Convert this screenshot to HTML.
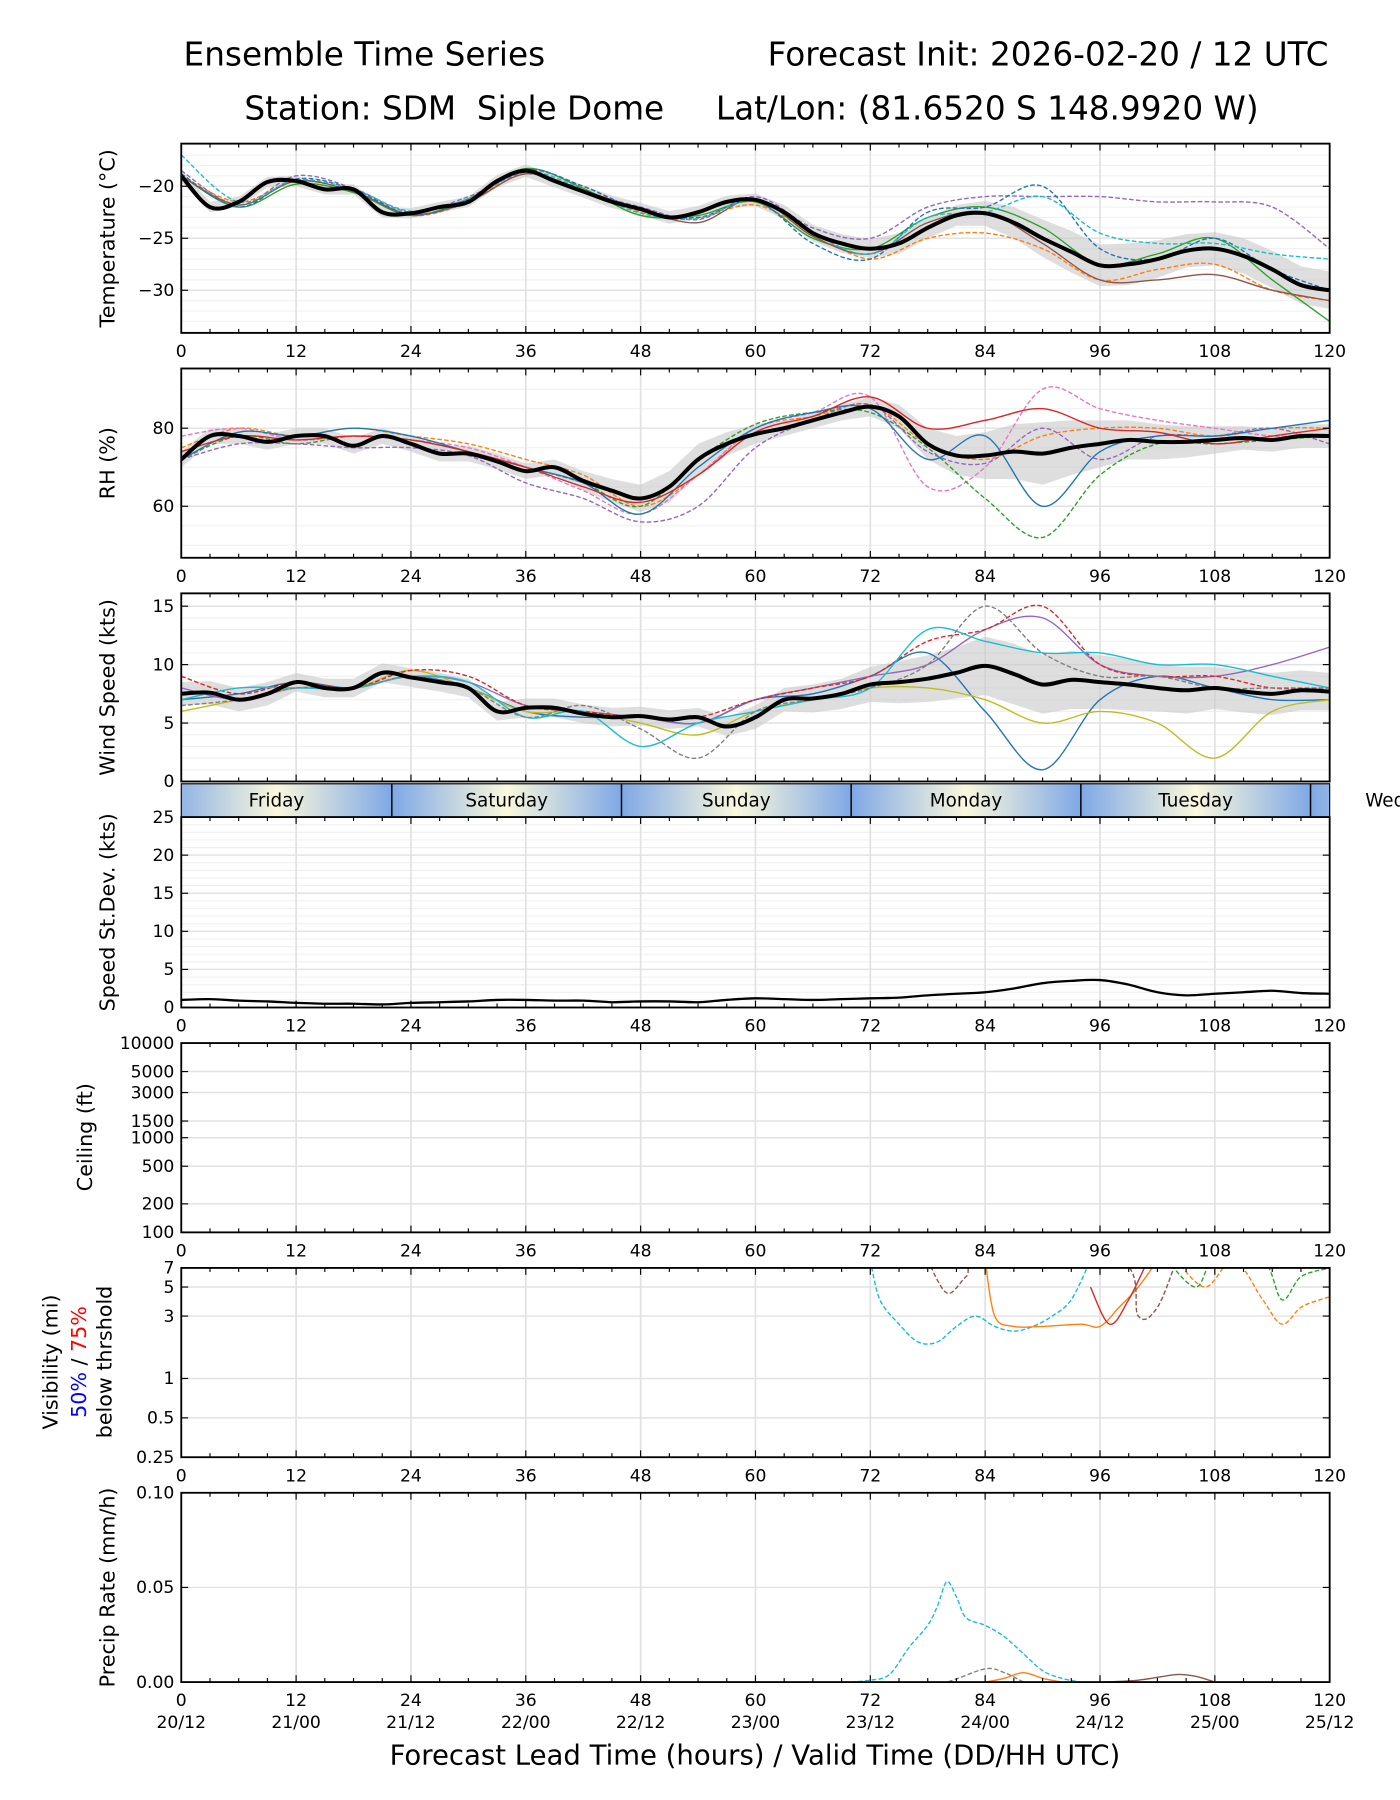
<!DOCTYPE html>
<html><head><meta charset="utf-8"><style>
html,body{margin:0;padding:0;background:#fff;}
svg{display:block;font-family:"DejaVu Sans","Liberation Sans",sans-serif;}
</style></head><body>
<svg id="chart" width="1400" height="1800" viewBox="0 0 1220.3 1568.6" xmlns="http://www.w3.org/2000/svg">
<defs>
<linearGradient id="dayg" x1="0" x2="1" y1="0" y2="0">
<stop offset="0" stop-color="#7ea8e6"/><stop offset="0.5" stop-color="#fbf8dc"/><stop offset="1" stop-color="#7ea8e6"/>
</linearGradient>
</defs>
<text x="160" y="57" font-size="28.5">Ensemble Time Series</text>
<text x="1158" y="57" font-size="28.5" text-anchor="end">Forecast Init: 2026-02-20 / 12 UTC</text>
<text x="213" y="104" font-size="28.5" xml:space="preserve">Station: SDM  Siple Dome</text>
<text x="624" y="104" font-size="28.5">Lat/Lon: (81.6520 S 148.9920 W)</text>
<g id="plots"></g>
<text x="658" y="1538" font-size="24" text-anchor="middle">Forecast Lead Time (hours) / Valid Time (DD/HH UTC)</text>
</svg>
<script>
// ---- data ----
const hours3 = [0,3,6,9,12,15,18,21,24,27,30,33,36,39,42,45,48,51,54,57,60,63,66,69,72,75,78,81,84,87,90,93,96,99,102,105,108,111,114,117,120];
const hours6 = [0,6,12,18,24,30,36,42,48,54,60,66,72,78,84,90,96,102,108,114,120];
const tempMean = [-19,-22,-21.5,-19.6,-19.5,-20.3,-20.3,-22.5,-22.6,-22,-21.5,-19.5,-18.5,-19.5,-20.5,-21.5,-22.2,-23,-22.5,-21.5,-21.3,-22.5,-24.5,-25.5,-26,-25.5,-24,-22.8,-22.6,-23.5,-25,-26.3,-27.6,-27.5,-27,-26.2,-26,-26.7,-28,-29.5,-30];
const tempSpread = [0.6,0.5,0.5,0.5,0.5,0.5,0.5,0.5,0.5,0.5,0.5,0.6,0.6,0.6,0.6,0.6,0.6,0.6,0.6,0.6,0.6,0.7,0.8,0.9,0.9,1.0,1.0,1.0,1.2,1.5,1.8,2.0,2.0,2.0,1.8,1.6,1.6,1.7,1.8,1.8,1.8];
const tempMembers = [
 [-19,-21.5,-19.5,-20.5,-22.8,-21.5,-18.5,-20,-22.5,-23,-21.8,-24.5,-27,-25,-24.5,-26,-29,-28,-27.5,-30,-31],
 [-18.5,-21.8,-19,-20.2,-22.5,-21,-18.8,-20.5,-22,-23.2,-21,-24,-25,-22,-21,-21,-21,-21.5,-21.5,-22,-26],
 [-19,-22,-19.8,-20.6,-22.8,-21.2,-18.3,-20.2,-22.8,-22.8,-21.5,-25,-26,-23,-22,-24,-27.5,-26.5,-25,-29,-33],
 [-19,-21.8,-19.5,-20.5,-22.7,-21.5,-18.8,-20.4,-22.2,-23.5,-21.2,-24.8,-26.5,-23.5,-22.5,-25.5,-29,-29,-28.5,-30,-31],
 [-18.8,-22,-19.3,-20.3,-22.7,-21.3,-18.4,-20,-22.3,-23,-21.4,-25.5,-27,-22.5,-22,-20,-26,-27,-25,-28,-30],
 [-17,-21.5,-19.4,-20.3,-22.4,-21.2,-18.6,-20.3,-22.6,-23.1,-21.3,-24.5,-26.5,-23,-22.5,-21,-24.5,-25.5,-25.5,-26.5,-27]
];
const rhMean = [72,78,78,76.5,78,78,75.5,78,76,73.5,73.5,71.5,69,70,66.5,64,62,65,72,76,78.5,80,82,84,85.5,83,76,73,73,74,73.5,75,76,77,76.5,76.5,77,77.5,77,78,78];
const rhSpread = [2,2,2,2,2,2,2,2,2,2,2,2,2,2,2.5,3,3.5,4,4,3,2.5,2,2,2,2.5,3,4,5,6,7,8,7,6,5,4.5,4,3.5,3,3,3,3];
const rhMembers = [
 [75,80,78,80,78,76,72,68,60,68,80,83,86,76,72,78,80,80,78,80,80],
 [78,80,77,78,77,75,70,64,58,68,80,84,88,65,70,90,85,82,80,78,78],
 [72,78,76,78,77,74,70,66,60,72,81,84,84,75,62,52,68,76,76,77,78],
 [72,76,76,75,75,73,66,62,56,60,75,82,86,74,71,80,72,78,78,80,76],
 [72,79,78,80,78,74,70,66,58,70,80,84,85,72,78,60,74,78,78,80,82],
 [74,78,77,78,77,74,70,65,61,68,79,83,88,80,82,85,80,79,76,78,80]
];
const windMean = [7.5,7.6,7.0,7.5,8.5,8,8,9.3,8.9,8.5,8,6,6.3,6.3,5.8,5.5,5.6,5.3,5.5,4.7,5.5,7,7.1,7.5,8.3,8.5,8.8,9.3,9.9,9.2,8.3,8.7,8.5,8.3,8.0,7.8,8,7.7,7.5,7.8,7.7];
const windSpread = [1,1,1,1,0.8,0.8,0.8,0.8,0.8,0.8,0.8,0.8,0.8,0.8,0.8,0.8,0.8,0.8,0.8,0.8,1,1,1.2,1.3,1.5,1.8,2,2.2,2.5,2.6,2.5,2.5,2.3,2.2,2.0,2.0,1.8,1.8,1.8,1.7,1.6];
const windMembers = [
 [7,7.5,8.5,8,9,8,6,5.5,5.5,5,7,7.5,9,11,6,1,7,9,8,7,7],
 [8,7,8,8,9,8.5,6.5,6,5.5,5,7,8,9,10,13,14,10,9,9,10,11.5],
 [6,7,8,8,9.5,8,6,6,5,4,6,7,8,8,7,5,6,5,2,6,7],
 [9,7.5,8.5,8,9.5,9,6.5,6,5.5,5.5,7,8,9,12,13,15,10,9,9,8,8],
 [7,8,8,8,9,8.5,5.5,6,3,5,6,7,8,13,12,11,11,10,10,9,8],
 [6.5,7,8,8,9,8,5.5,6.5,4.5,2,6,7,8,10,15,11,9,9,8,8,8]
];
const sdValues = [1.0,1.1,0.9,0.8,0.6,0.5,0.5,0.4,0.6,0.7,0.8,1.0,1.0,0.9,0.9,0.7,0.8,0.8,0.7,1.0,1.2,1.1,1.0,1.1,1.2,1.3,1.6,1.8,2.0,2.5,3.2,3.5,3.6,3.0,2.0,1.6,1.8,2.0,2.2,1.9,1.8];
const memberColors = ['#ff7f0e','#9467bd','#2ca02c','#8c564b','#1f77b4','#17becf'];
const memberDash = [true,true,false,false,true,true];
const windColors = ['#1f77b4','#9467bd','#bcbd22','#d62728','#17becf','#7f7f7f'];
const windDash = [false,false,false,true,false,true];
const visHours = [[72,73,75,77,79,81,83,85,87,89,91,93,95],[84,85,87,90,94,96,98,100,102],[95,97,99,101],[104,107,110,113,115,117,119,120],[78,80,82,84,98,100,102,104],[103,106,108,113,115,117,120]];
const visValues = [[8,4,2.6,1.9,1.9,2.5,3,2.5,2.3,2.5,3,4,8],[8,3,2.5,2.5,2.6,2.5,3.5,5,8],[5,2.6,4,8],[8,5,8,4,2.6,3.5,4,4.2],[8,4.5,6,8,8,3,3.5,8],[8,5,8,8,4,6,7]];
const visColors = ['#17becf','#ff7f0e','#d62728','#ff7f0e','#8c564b','#2ca02c'];
const visDash = [true,false,false,true,true,true];
const precipHours = [[70,72,74,76,78,79,80,81,82,84,86,88,90,92,94],[96,100,104,106,108],[84,86,88,90,92],[78,80,84,86,88]];
const precipValues = [[0,0.001,0.004,0.018,0.03,0.04,0.053,0.045,0.034,0.03,0.024,0.015,0.006,0.002,0],[0,0.001,0.004,0.003,0],[0,0.002,0.005,0.002,0],[0,0,0.007,0.005,0]];
const precipColors = ['#17becf','#8c564b','#ff7f0e','#7f7f7f'];
const precipDash = [true,false,false,true];
const dayNames = ['Friday','Saturday','Sunday','Monday','Tuesday'];
const dayBounds = [22,46,70,94,118];
const xTicks = [0,12,24,36,48,60,72,84,96,108,120];
const dateLabels = ['20/12','21/00','21/12','22/00','22/12','23/00','23/12','24/00','24/12','25/00','25/12'];

// ---- drawing ----
const NS='http://www.w3.org/2000/svg';
const G=document.getElementById('plots');
const X0=158,X1=1159;
const xs=h=>X0+(X1-X0)*h/120;
function el(tag,attrs,parent){const e=document.createElementNS(NS,tag);for(const k in attrs)e.setAttribute(k,attrs[k]);(parent||G).appendChild(e);return e;}
function linY(top,bot,lo,hi){return v=>bot-(v-lo)/(hi-lo)*(bot-top);}
function logY(top,bot,lo,hi){return v=>bot-(Math.log(v)-Math.log(lo))/(Math.log(hi)-Math.log(lo))*(bot-top);}
function path(hs,vs,ys){
  const P=hs.map((h,i)=>[xs(h),ys(vs[i])]);
  let d='M'+P[0][0].toFixed(1)+','+P[0][1].toFixed(1);
  for(let i=0;i<P.length-1;i++){
    const p0=P[Math.max(0,i-1)],p1=P[i],p2=P[i+1],p3=P[Math.min(P.length-1,i+2)];
    const c1x=p1[0]+(p2[0]-p0[0])/6,c1y=p1[1]+(p2[1]-p0[1])/6;
    const c2x=p2[0]-(p3[0]-p1[0])/6,c2y=p2[1]-(p3[1]-p1[1])/6;
    d+=' C'+c1x.toFixed(1)+','+c1y.toFixed(1)+' '+c2x.toFixed(1)+','+c2y.toFixed(1)+' '+p2[0].toFixed(1)+','+p2[1].toFixed(1);
  }
  return d;
}

function panel(name,top,bot,ys,majors,minors,labels,ylabel,tickLabels){
  const g=el('g',{});
  
  
  const clipId='clip-'+name;
  const cp=el('clipPath',{id:clipId},g);el('rect',{x:X0,y:top,width:X1-X0,height:bot-top},cp);
  (minors||[]).forEach(v=>{const y=ys(v);el('line',{x1:X0,x2:X1,y1:y,y2:y,stroke:'#f0f0f0','stroke-width':1},g);});
  majors.forEach(v=>{const y=ys(v);el('line',{x1:X0,x2:X1,y1:y,y2:y,stroke:'#e2e2e2','stroke-width':1.3},g);});
  xTicks.forEach(h=>el('line',{x1:xs(h),x2:xs(h),y1:top,y2:bot,stroke:'#e2e2e2','stroke-width':1.5},g));
  const inner=el('g',{'clip-path':'url(#'+clipId+')'},g);
  el('rect',{x:X0,y:top,width:X1-X0,height:bot-top,fill:'none',stroke:'#000','stroke-width':1.6},g);
  for(let h=0;h<=120;h+=3){const big=h%12===0;const l=big?6:3.5;
    el('line',{x1:xs(h),x2:xs(h),y1:bot,y2:bot-l,stroke:'#000','stroke-width':1},g);
    el('line',{x1:xs(h),x2:xs(h),y1:top,y2:top+l,stroke:'#000','stroke-width':1},g);}
  majors.forEach((v,i)=>{const y=ys(v);
    el('line',{x1:X0,x2:X0+6,y1:y,y2:y,stroke:'#000'},g);el('line',{x1:X1,x2:X1-6,y1:y,y2:y,stroke:'#000'},g);
    const t=el('text',{x:X0-6,y:y+5,'font-size':15,'text-anchor':'end'},g);t.textContent=labels[i];});
  if(tickLabels){xTicks.forEach(h=>{const t=el('text',{x:xs(h),y:bot+21,'font-size':15,'text-anchor':'middle'},g);t.textContent=h;});}
  if(ylabel){const cy=(top+bot)/2;const t=el('text',{x:0,y:0,'font-size':18,'text-anchor':'middle',transform:`translate(100,${cy}) rotate(-90)`},g);t.textContent=ylabel;}
  return inner;
}
function ensemble(inner,name,ys,mean,spread,members,colors,dash){
  const up=hours3.map((h,i)=>xs(h).toFixed(1)+','+ys(mean[i]+spread[i]).toFixed(1));
  const dn=hours3.map((h,i)=>xs(h).toFixed(1)+','+ys(mean[i]-spread[i]).toFixed(1)).reverse();
  const band=el('polygon',{points:up.concat(dn).join(' '),fill:'#c8c8c8','fill-opacity':0.6},inner);
  
  
  members.forEach((m,i)=>{const p=el('path',{d:path(hours6,m,ys),fill:'none',stroke:colors[i],'stroke-width':1.2,'stroke-dasharray':dash[i]?'4 2':'none'},inner);
    
    });
  const p=el('path',{d:path(hours3,mean,ys),fill:'none',stroke:'#000','stroke-width':3.5,'stroke-linejoin':'round'},inner);
  
  
}
let ys=linY(125,290,-34.1,-15.9);
let inner=panel('temperature',125,290,ys,[-20,-25,-30],[-34,-33,-32,-31,-29,-28,-27,-26,-24,-23,-22,-21,-19,-18,-17,-16],['\u221220','\u221225','\u221230'],'Temperature (\u00b0C)',true);
ensemble(inner,'temperature',ys,tempMean,tempSpread,tempMembers,memberColors,memberDash);
ys=linY(321,486,46.8,95.3);
inner=panel('rh',321,486,ys,[60,80],[50,55,65,70,75,85,90,95],['60','80'],'RH (%)',true);
ensemble(inner,'rh',ys,rhMean,rhSpread,rhMembers,['#ff7f0e','#e377c2','#2ca02c','#9467bd','#1f77b4','#d62728'],[true,true,true,true,false,false]);
ys=linY(517,681,0,16.1);
inner=panel('wind-speed',517,681,ys,[0,5,10,15],[1,2,3,4,6,7,8,9,11,12,13,14,16],['0','5','10','15'],'Wind Speed (kts)',false);
ensemble(inner,'wind',ys,windMean,windSpread,windMembers,windColors,windDash);
const db=el('g',{});


const starts=[-2].concat(dayBounds);
for(let i=0;i<6;i++){const a=Math.max(0,starts[i]),b=Math.min(120,starts[i]+24);
  const fullA=xs(starts[i]),fullB=xs(starts[i]+24);
  const cp=el('clipPath',{id:'dc'+i},db);el('rect',{x:xs(a),y:683,width:xs(b)-xs(a),height:29},cp);
  el('rect',{x:fullA,y:683,width:fullB-fullA,height:29,fill:'url(#dayg)','clip-path':'url(#dc'+i+')'},db);}
dayBounds.forEach(h=>el('line',{x1:xs(h),x2:xs(h),y1:683,y2:712,stroke:'#000','stroke-width':1.3},db));
el('rect',{x:X0,y:683,width:X1-X0,height:29,fill:'none',stroke:'#000','stroke-width':1},db);
dayNames.forEach((n,i)=>{const t=el('text',{x:i===0?241:xs(starts[i]+12),y:703,'font-size':16,'text-anchor':'middle'},db);t.textContent=n;});
const wt=el('text',{x:1190,y:703,'font-size':16},db);wt.textContent='Wed';
ys=linY(712,878,0,25);
inner=panel('speed-stdev',712,878,ys,[0,5,10,15,20,25],[1,2,3,4,6,7,8,9,11,12,13,14,16,17,18,19,21,22,23,24],['0','5','10','15','20','25'],'Speed St.Dev. (kts)',true);
let sp=el('path',{d:path(hours3,sdValues,ys),fill:'none',stroke:'#000','stroke-width':2},inner);


ys=logY(909,1074,100,10000);
panel('ceiling',909,1074,ys,[100,200,500,1000,1500,3000,5000,10000],[],['100','200','500','1000','1500','3000','5000','10000'],'',true);
let ct=el('text',{x:0,y:0,'font-size':18,'text-anchor':'middle',transform:'translate(80,991) rotate(-90)'});ct.textContent='Ceiling (ft)';


ys=logY(1105,1270,0.25,7);
inner=panel('visibility',1105,1270,ys,[0.25,0.5,1,3,5,7],[],['0.25','0.5','1','3','5','7'],'',true);
visHours.forEach((hs,i)=>{const p=el('path',{d:path(hs,visValues[i],ys),fill:'none',stroke:visColors[i],'stroke-width':1.2,'stroke-dasharray':visDash[i]?'4 2':'none'},inner);
  
  });
const vl=el('text',{x:0,y:0,'font-size':18,'text-anchor':'middle',transform:'translate(50,1187) rotate(-90)'});vl.textContent='Visibility (mi)';
const vl2=el('text',{x:0,y:0,'font-size':18,'text-anchor':'middle',transform:'translate(75,1187) rotate(-90)'});
vl2.innerHTML='<tspan fill="#0000ff">50%</tspan> / <tspan fill="#ff0000">75%</tspan>';
const vl3=el('text',{x:0,y:0,'font-size':18,'text-anchor':'middle',transform:'translate(97,1187) rotate(-90)'});vl3.textContent='below thrshold';
ys=linY(1301,1466,0,0.1);
inner=panel('precip',1301,1466,ys,[0,0.05,0.1],[],['0.00','0.05','0.10'],'Precip Rate (mm/h)',true);
precipHours.forEach((hs,i)=>{const p=el('path',{d:path(hs,precipValues[i],ys),fill:'none',stroke:precipColors[i],'stroke-width':1.2,'stroke-dasharray':precipDash[i]?'4 2':'none'},inner);
  
  });
xTicks.forEach((h,i)=>{const t=el('text',{x:xs(h),y:1506,'font-size':15,'text-anchor':'middle'});t.textContent=dateLabels[i];});
</script>
</body></html>
